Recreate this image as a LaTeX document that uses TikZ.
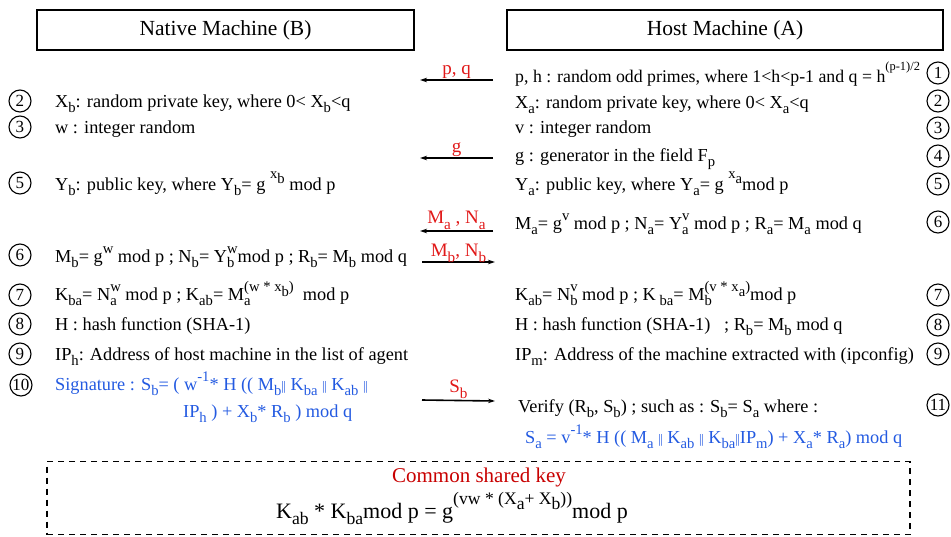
\documentclass[tikz,border=0pt]{standalone}
\usepackage{fontspec}
\setmainfont{Liberation Serif}
\usetikzlibrary{arrows.meta}
\definecolor{lblred}{RGB}{225,25,25}
\definecolor{keyred}{RGB}{200,0,0}
\definecolor{sigblue}{RGB}{35,90,225}
\makeatletter
\newcommand\Lsub[1]{\raisebox{-0.3em}{\fontsize{\fpeval{0.8*\f@size}}{1}\selectfont #1}}
\newcommand\Lsup[1]{\raisebox{0.45em}{\fontsize{\fpeval{0.8*\f@size}}{1}\selectfont #1}}
\newcommand\Lhi[1]{\raisebox{0.62em}{\fontsize{\fpeval{0.8*\f@size}}{1}\selectfont #1}}
\newcommand\Lhis[1]{\raisebox{0.62em}{\fontsize{\fpeval{0.7*\f@size}}{1}\selectfont #1}}
\makeatother
\newcommand\Ldn[1]{\raisebox{-0.3em}{#1}}
\newcommand\Lss[2]{\setbox0\hbox{\Lsub{#1}}\setbox2\hbox{\Lsup{#2}}\ifdim\wd0>\wd2\relax\rlap{\box2}\box0\relax\else\rlap{\box0}\box2\relax\fi}
\newcommand\dbar{{\fontsize{13}{13}\selectfont|\kern-0.6pt|}}
\begin{document}
\begin{tikzpicture}[x=1pt,y=-1pt,
  txt/.style={anchor=base west,inner sep=0pt,font=\fontsize{18.3}{20}\selectfont},
  num/.style={draw,circle,line width=1.1pt,minimum size=22pt,inner sep=0pt,font=\fontsize{17}{17}\selectfont},
  msg/.style={line width=1.6pt,-{Stealth[length=7pt,width=4.5pt]}},
  lbl/.style={text=lblred,font=\fontsize{19}{19}\selectfont,inner sep=1pt},
  titlebox/.style={draw,line width=1.2pt,minimum height=40pt,inner sep=0pt,font=\fontsize{21.5}{22}\selectfont}]
\useasboundingbox (0,0) rectangle (951,536);
% title boxes
\node[titlebox,minimum width=377pt] (nat) at (225.5,30) {Native Machine (B)};
\node[titlebox,minimum width=436pt] (host) at (725,30) {Host Machine (A)};
% left column
\node[num] (cL2) at (20,101) {2};
\node[num] (cL3) at (20,127) {3};
\node[num] (cL5) at (20,183) {5};
\node[num] (cL6) at (20,255) {6};
\node[num] (cL7) at (20,295) {7};
\node[num] (cL8) at (20,324) {8};
\node[num] (cL9) at (20,354) {9};
\node[num] (cL10) at (21,385) {10};
\node[txt] (tL2) at (55,107) {X\Lsub{b}: random private key, where 0< X\Lsub{b}<q};
\node[txt] (tL3) at (55,133) {w : integer random};
\node[txt] (tL5) at (55,190) {Y\Lsub{b}: public key, where Y\Lsub{b}= g \Lhi{x\Ldn{b}} mod p};
\node[txt] (tL6) at (55,262) {M\Lsub{b}= g\Lsup{w} mod p ; N\Lsub{b}= Y\Lss{b}{w}mod p ; R\Lsub{b}= M\Lsub{b} mod q};
\node[txt] (tL7) at (55,300) {K\Lsub{ba}= N\Lss{a}{w} mod p ; K\Lsub{ab}= M\Lss{a}{(w * x\Ldn{b})} \ mod p};
\node[txt] (tL8) at (55,330) {H : hash function (SHA-1)};
\node[txt] (tL9) at (55,360) {IP\Lsub{h}: Address of host machine in the list of agent};
\node[txt,text=sigblue] (tL10) at (55,390) {Signature : S\Lsub{b}= ( w\Lsup{-1}* H (( M\Lsub{b}\dbar\ K\Lsub{ba}\ \dbar\ K\Lsub{ab}\ \dbar};
\node[txt,text=sigblue] (tL10b) at (183,417) {IP\Lsub{h} ) + X\Lsub{b}* R\Lsub{b} ) mod q};
% right column
\node[num] (cR1) at (938,73) {1};
\node[num] (cR2) at (938,101) {2};
\node[num] (cR3) at (938,128) {3};
\node[num] (cR4) at (938,156) {4};
\node[num] (cR5) at (938,184) {5};
\node[num] (cR6) at (938,222) {6};
\node[num] (cR7) at (938,295) {7};
\node[num] (cR8) at (938,325) {8};
\node[num] (cR9) at (938,354) {9};
\node[num] (cR11) at (938,405) {11};
\node[txt,font=\fontsize{17.8}{20}\selectfont] (tR1) at (515,82) {p, h : random odd primes, where 1<h<p-1 and q = h\Lhis{(p-1)/2}};
\node[txt] (tR2) at (515,108) {X\Lsub{a}: random private key, where 0< X\Lsub{a}<q};
\node[txt] (tR3) at (515,133) {v : integer random};
\node[txt] (tR4) at (515,161) {g : generator in the field F\Lsub{p}};
\node[txt] (tR5) at (515,190) {Y\Lsub{a}: public key, where Y\Lsub{a}= g \Lhi{x\Ldn{a}}mod p};
\node[txt] (tR6) at (515,229) {M\Lsub{a}= g\Lsup{v} mod p ; N\Lsub{a}= Y\Lss{a}{v} mod p ; R\Lsub{a}= M\Lsub{a} mod q};
\node[txt] (tR7) at (515,300) {K\Lsub{ab}= N\Lss{b}{v} mod p ; K\Lsub{ ba}= M\Lss{b}{(v * x\Ldn{a})}mod p};
\node[txt] (tR8) at (515,330) {H : hash function (SHA-1) \ \ ; R\Lsub{b}= M\Lsub{b} mod q};
\node[txt] (tR9) at (515,360) {IP\Lsub{m}: Address of the machine extracted with (ipconfig)};
\node[txt] (tR11) at (518,412) {Verify (R\Lsub{b}, S\Lsub{b}) ; such as : S\Lsub{b}= S\Lsub{a} where :};
\node[txt,text=sigblue] (tR11b) at (525,443) {S\Lsub{a} = v\Lsup{-1}* H (( M\Lsub{a}\ \dbar\ K\Lsub{ab}\ \dbar\ K\Lsub{ba}\dbar IP\Lsub{m}) + X\Lsub{a}* R\Lsub{a}) mod q};
% messages
\coordinate (pqS) at (493,80);  \coordinate (pqE) at (420,80);
\coordinate (gS) at (493,158);  \coordinate (gE) at (420,158);
\coordinate (maS) at (493,231); \coordinate (maE) at (420,231);
\coordinate (mbS) at (422,262); \coordinate (mbE) at (495,262);
\coordinate (sbS) at (422,400); \coordinate (sbE) at (495,401);
\draw[msg] (pqS) -- node[lbl,above] (lpq) {p, q} (pqE);
\draw[msg] (gS) -- node[lbl,above] (lg) {g} (gE);
\draw[msg] (maS) -- node[lbl,above] (lma) {M\Lsub{a} , N\Lsub{a}} (maE);
\draw[msg] (mbS) -- node[lbl,above,yshift=-2pt] (lmb) {M\Lsub{b}, N\Lsub{b}} (mbE);
\draw[msg] (sbS) -- node[lbl,above] (lsb) {S\Lsub{b}} (sbE);
% shared key box
\node[draw,dashed,dash pattern=on 6pt off 5pt,line width=1.3pt,minimum width=863pt,minimum height=73pt,inner sep=0pt] (shared) at (478.5,498) {};
\node[anchor=base,inner sep=0pt,text=keyred,font=\fontsize{21}{22}\selectfont] (csk) at (479,482) {Common shared key};
\node[anchor=base,inner sep=0pt,font=\fontsize{22}{23}\selectfont] (eq) at (452,518) {K\Lsub{ab} * K\Lsub{ba}mod p = g\Lhi{(vw * (X\Ldn{a}+ X\Ldn{b}))}mod p};
\end{tikzpicture}
\end{document}
